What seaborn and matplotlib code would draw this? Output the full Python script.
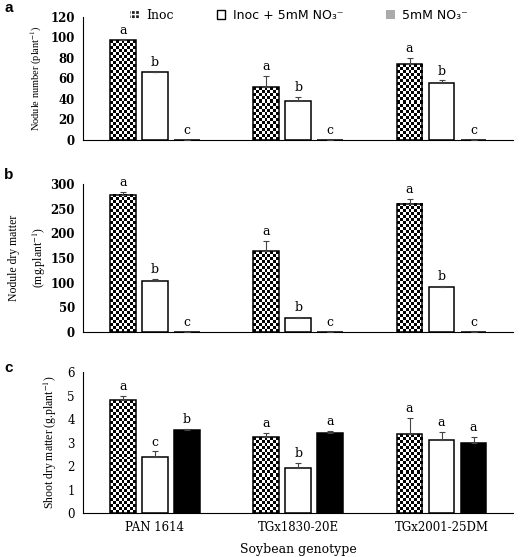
import numpy as np
import pandas as pd
import matplotlib
matplotlib.use("Agg")
import matplotlib.pyplot as plt
from matplotlib.patches import Patch
import seaborn as sns

plt.rcParams["mathtext.fontset"] = "stix"

genotypes = ["PAN 1614", "TGx1830-20E", "TGx2001-25DM"]
treatments = ["Inoc", "Inoc + 5mM NO₃⁻", "5mM NO₃⁻"]

# panel a - nodule number
nod_num_inoc = [97, 51, 74]
nod_num_inocn = [66, 38, 55]
nod_num_n = [0, 0, 0]
nod_num_err_inoc = [1, 11, 6]
nod_num_err_inocn = [0.5, 4, 3]
nod_num_err_n = [0, 0, 0]
nod_num_letters = [["a", "a", "a"], ["b", "b", "b"], ["c", "c", "c"]]

# panel b - nodule dry matter
nod_dm_inoc = [278, 163, 260]
nod_dm_inocn = [103, 28, 92]
nod_dm_n = [0, 0, 0]
nod_dm_err_inoc = [5, 22, 10]
nod_dm_err_inocn = [5, 3, 1]
nod_dm_err_n = [0, 0, 0]
nod_dm_letters = [["a", "a", "a"], ["b", "b", "b"], ["c", "c", "c"]]

# panel c - shoot dry matter
shoot_inoc = [4.8, 3.22, 3.35]
shoot_inocn = [2.4, 1.9, 3.1]
shoot_n = [3.55, 3.4, 3.0]
shoot_err_inoc = [0.2, 0.18, 0.7]
shoot_err_inocn = [0.22, 0.22, 0.35]
shoot_err_n = [0.02, 0.1, 0.25]
shoot_letters = [["a", "a", "a"], ["c", "b", "a"], ["b", "a", "a"]]

serif = "DejaVu Serif"
times = "Liberation Serif"


def make_df(v1, v2, v3):
    rows = []
    for t, vals in zip(treatments, [v1, v2, v3]):
        for g, v in zip(genotypes, vals):
            rows.append({"genotype": g, "treatment": t, "value": v})
    return pd.DataFrame(rows)


def checker_fill(fig, ax, container, cell=3.0):
    fig.canvas.draw()
    for p in container.patches:
        x0, y0, w, h = p.get_x(), p.get_y(), p.get_width(), p.get_height()
        if h <= 0:
            continue
        (px0, py0), (px1, py1) = ax.transData.transform([(x0, y0), (x0 + w, y0 + h)])
        nc = max(1, int(round(abs(px1 - px0) / cell)))
        nr = max(1, int(round(abs(py1 - py0) / cell)))
        arr = (np.add.outer(np.arange(nr), np.arange(nc)) % 2).astype(float)
        ax.imshow(arr, cmap="gray", extent=(x0, x0 + w, y0, y0 + h), origin="lower",
                  aspect="auto", interpolation="nearest", zorder=p.get_zorder() - 0.01,
                  clip_path=p, vmin=0, vmax=1)
        p.set_facecolor("none")


def panel(fig, rect, vals, errs, letters, ymax, ystep, ylabel, lab_x, lab_size,
          tick_bold, show_x):
    ax = fig.add_axes(rect)
    df = make_df(*vals)
    sns.barplot(data=df, x="genotype", y="value", hue="treatment", order=genotypes,
                hue_order=treatments, palette=["white", "white", "black"],
                edgecolor="black", linewidth=1.1, width=0.67, gap=0.2,
                legend=False, ax=ax, errorbar=None)
    ax.set_ylim(0, ymax)
    ax.set_xlim(-0.5, 2.5)
    bars = list(ax.containers)
    for h, cont in enumerate(bars):
        xs = [p.get_x() + p.get_width() / 2 for p in cont.patches]
        tops = [p.get_height() for p in cont.patches]
        e = errs[h]
        ax.errorbar(xs, tops, yerr=[np.zeros(3), e], fmt="none", ecolor="#444444",
                    elinewidth=0.8, capsize=2, capthick=0.8, zorder=3)
        for x, t, ee, lab in zip(xs, tops, e, letters[h]):
            ax.annotate(lab, (x, t + ee), xytext=(0, 2), textcoords="offset points",
                        ha="center", va="bottom", fontsize=9, family=serif)
    checker_fill(fig, ax, bars[0])
    ax.set_ylim(0, ymax)
    ax.set_xlim(-0.5, 2.5)
    ax.set_yticks(np.arange(0, ymax + ystep / 2, ystep))
    for s in ["top", "right"]:
        ax.spines[s].set_visible(False)
    ax.spines["left"].set_linewidth(0.8)
    ax.spines["bottom"].set_linewidth(0.8)
    ax.tick_params(length=0, pad=6)
    for lab in ax.get_yticklabels():
        lab.set_fontfamily(serif)
        lab.set_fontsize(8.5)
        lab.set_fontweight("bold" if tick_bold else "normal")
    ax.set_ylabel(ylabel, fontsize=lab_size, family=times, linespacing=1.8)
    ax.yaxis.set_label_coords(lab_x, 0.5)
    if show_x:
        for lab in ax.get_xticklabels():
            lab.set_fontfamily(serif)
            lab.set_fontsize(8.5)
        ax.set_xlabel("Soybean genotype", fontsize=9, family=serif, labelpad=6)
    else:
        ax.set_xticklabels([])
        ax.set_xlabel("")
    return ax


fig = plt.figure(figsize=(5.2, 5.57), dpi=100)

panel(fig, [0.160, 0.749, 0.827, 0.221],
      [nod_num_inoc, nod_num_inocn, nod_num_n],
      [nod_num_err_inoc, nod_num_err_inocn, nod_num_err_n],
      nod_num_letters, 120, 20, "Nodule number (plant$^{-1}$)", -0.091, 7.5, True, False)
panel(fig, [0.160, 0.404, 0.827, 0.266],
      [nod_dm_inoc, nod_dm_inocn, nod_dm_n],
      [nod_dm_err_inoc, nod_dm_err_inocn, nod_dm_err_n],
      nod_dm_letters, 300, 50, "Nodule dry matter\n(mg.plant$^{-1}$)", -0.083, 8.5,
      True, False)
panel(fig, [0.160, 0.079, 0.827, 0.253],
      [shoot_inoc, shoot_inocn, shoot_n],
      [shoot_err_inoc, shoot_err_inocn, shoot_err_n],
      shoot_letters, 6, 1, "Shoot dry matter (g.plant$^{-1}$)", -0.056, 8.5, False, True)

for lab, y in zip(["a", "b", "c"], [0.985, 0.685, 0.34]):
    fig.text(0.008, y, lab, fontsize=11, fontweight="bold", family="Liberation Sans",
             va="center")

handles = [
    Patch(facecolor="#222222", edgecolor="white", hatch="++++", linewidth=0),
    Patch(facecolor="white", edgecolor="black", linewidth=1.0),
    Patch(facecolor="#aaaaaa", edgecolor="#aaaaaa", linewidth=0),
]
leg = fig.legend(handles, treatments, loc="center", bbox_to_anchor=(0.575, 0.972), ncol=3,
                 frameon=False, handlelength=0.7, handleheight=0.7, handletextpad=0.6,
                 columnspacing=3.4, prop={"family": "DejaVu Sans", "size": 9})
leg.get_texts()[0].set_fontfamily(serif)

fig.savefig("out.png", dpi=100)
